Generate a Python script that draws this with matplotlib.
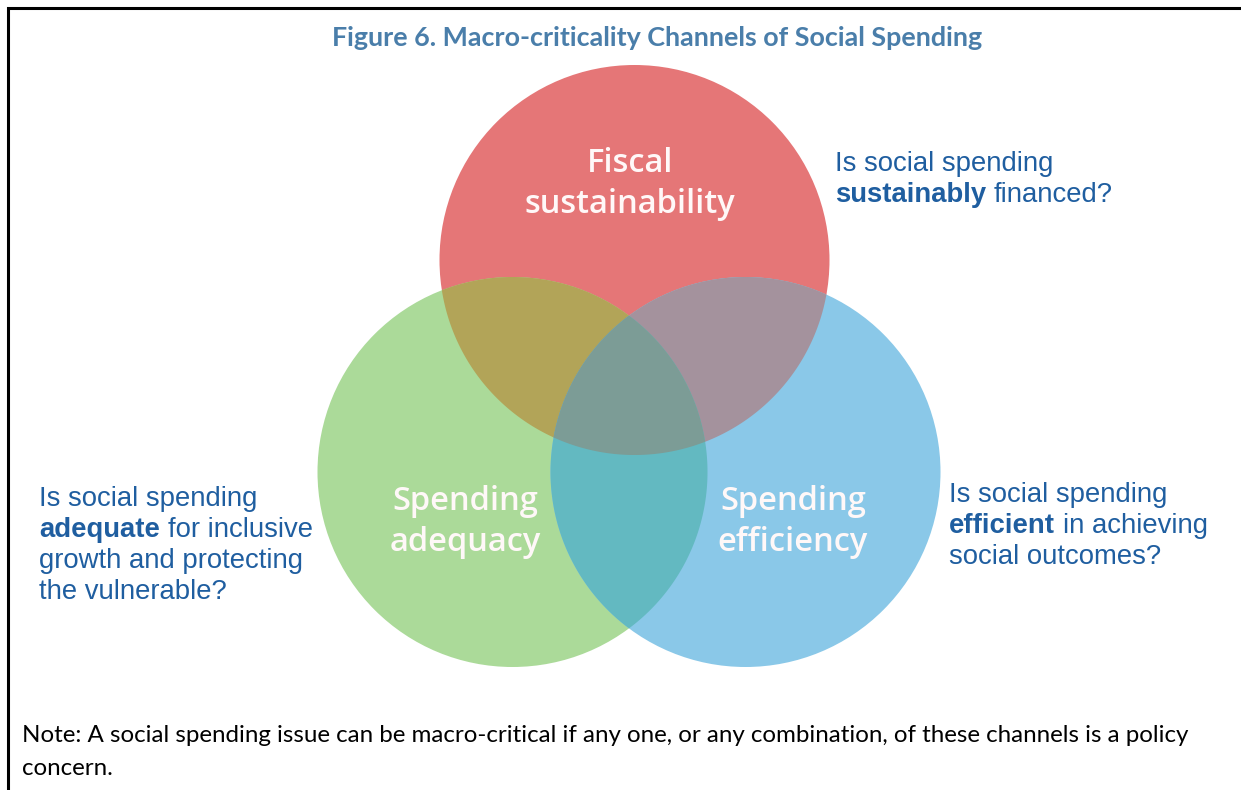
import numpy as np
import matplotlib.pyplot as plt
from matplotlib.patches import Circle, Polygon

# Venn circles (pixel coordinates of the original picture)
circle_labels = ["Fiscal\nsustainability", "Spending\nadequacy", "Spending\nefficiency"]
circle_x = [634.5, 512.5, 745.5]
circle_y = [260, 472, 472]
circle_r = [195, 195, 195]
circle_colors = ["#E57677", "#ABDA99", "#8AC8E8"]

# overlaps: red+green, red+blue, green+blue, all three
overlap_sets = [(0, 1), (0, 2), (1, 2), (0, 1, 2)]
overlap_colors = ["#B2A458", "#A4929D", "#63B9C1", "#7C9C96"]

# questions, each line is a list of (text, weight) pieces
questions = [
    [[("Is social spending", "normal")],
     [("sustainably", "bold"), ("financed?", "normal")]],
    [[("Is social spending", "normal")],
     [("adequate", "bold"), ("for inclusive", "normal")],
     [("growth and protecting", "normal")],
     [("the vulnerable?", "normal")]],
    [[("Is social spending", "normal")],
     [("efficient", "bold"), ("in achieving", "normal")],
     [("social outcomes?", "normal")]],
]

title = "Figure 6. Macro-criticality Channels of Social Spending"
note_lines = ["Note: A social spending issue can be macro-critical if any one, or any combination, of these channels is a policy",
              "concern."]

W, H = 1241, 790
fig = plt.figure(figsize=(W / 100, H / 100), dpi=100)
ax = fig.add_axes([0, 0, 1, 1])
ax.set_xlim(0, W)
ax.set_ylim(H, 0)
ax.axis("off")
renderer = fig.canvas.get_renderer()


def region(ids, n=1440):
    # intersection of circles is convex -> collect boundary points and sort by angle
    t = np.linspace(0, 2 * np.pi, n, endpoint=False)
    pts = []
    for i in ids:
        px = circle_x[i] + circle_r[i] * np.cos(t)
        py = circle_y[i] + circle_r[i] * np.sin(t)
        keep = np.ones(n, bool)
        for j in ids:
            if j != i:
                keep &= (px - circle_x[j]) ** 2 + (py - circle_y[j]) ** 2 <= circle_r[j] ** 2 + 1e-6
        pts.append(np.column_stack([px[keep], py[keep]]))
    pts = np.vstack(pts)
    c = pts.mean(axis=0)
    order = np.argsort(np.arctan2(pts[:, 1] - c[1], pts[:, 0] - c[0]))
    return pts[order]


for x, y, r, col in zip(circle_x, circle_y, circle_r, circle_colors):
    ax.add_patch(Circle((x, y), r, facecolor=col, edgecolor="none", zorder=1))
for ids, col in zip(overlap_sets, overlap_colors):
    ax.add_patch(Polygon(region(ids), closed=True, facecolor=col, edgecolor="none", zorder=2))

# labels inside circles
label_pos = [(630, 172), (465, 510), (793, 510)]
for (lx, ly), lab in zip(label_pos, circle_labels):
    for k, line in enumerate(lab.split("\n")):
        ax.text(lx, ly + k * 41, line, color="#FFF8F8", fontsize=23.5, family="Open Sans",
                fontweight="semibold", ha="center", va="baseline", zorder=3)

# questions in blue, mixing bold and normal pieces
blue = "#1F5EA0"
q_size = 19.8
space = 0.278 * q_size * 100 / 72
q_pos = [(835, 171), (39, 506), (949, 502)]
q_step = 31
for (qx, qy), lines in zip(q_pos, questions):
    for k, pieces in enumerate(lines):
        x = qx
        for text, weight in pieces:
            t = ax.text(x, qy + k * q_step, text, color=blue, fontsize=q_size,
                        family="Liberation Sans", fontweight=weight, va="baseline", ha="left")
            x += t.get_window_extent(renderer).width + space


def fit_width(t, target):
    w = t.get_window_extent(renderer).width
    t.set_fontsize(t.get_fontsize() * target / w)


tt = ax.text(657, 46, title, color="#4A7EAA", fontsize=18, family="Lato",
             fontweight="bold", ha="center", va="baseline")
fit_width(tt, 655)

n1 = ax.text(22, 742, note_lines[0], color="black", fontsize=16, family="Lato",
             ha="left", va="baseline")
fit_width(n1, 1173)
ax.text(22, 775, note_lines[1], color="black", fontsize=n1.get_fontsize(), family="Lato",
        ha="left", va="baseline")

# frame lines (left and top)
ax.plot([8, 8, W], [H, 8, 8], color="black", lw=2.2, solid_joinstyle="miter", zorder=5)

fig.savefig("out.png", dpi=100)
